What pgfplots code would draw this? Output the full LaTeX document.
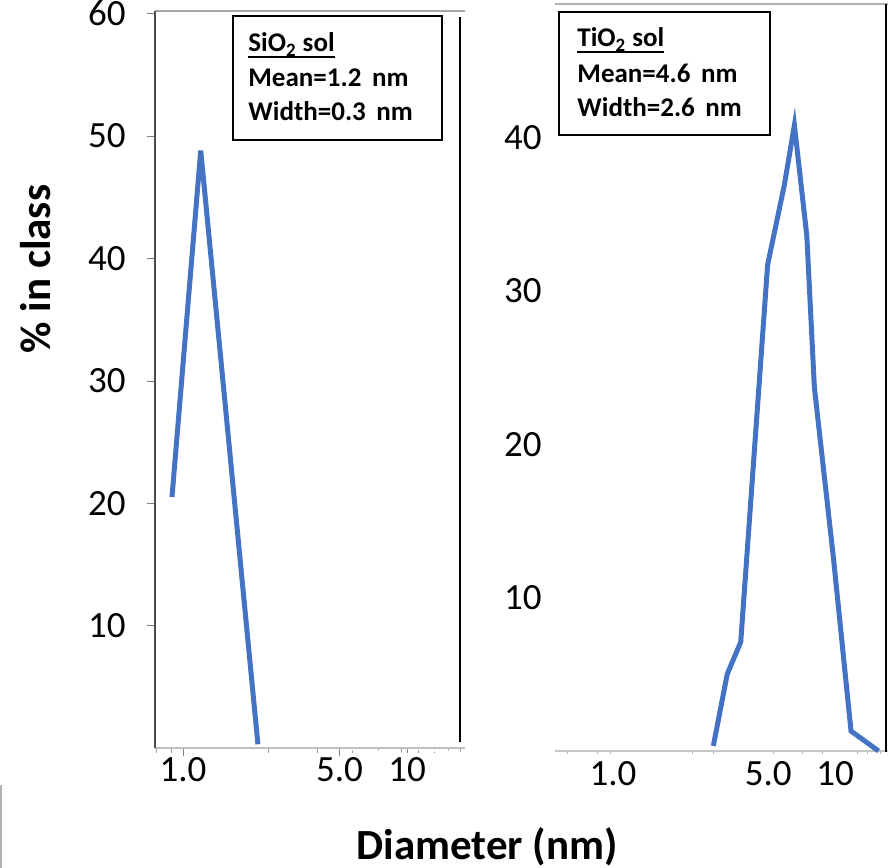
\documentclass[border=0pt]{standalone}
\usepackage{fontspec}
\setmainfont{Carlito}
\usepackage{pgfplots}
\pgfplotsset{compat=1.18}
\definecolor{lineblue}{RGB}{68,114,196}
% thick underline for the box titles
\newcommand\ul[1]{\setbox0\hbox{#1}\rlap{\rule[-3.2pt]{\wd0}{1.4pt}}\box0}

\pgfplotsset{
  panel/.style={
    scale only axis, ymin=0, clip=false,
    axis line style={draw=none},
    xtick pos=bottom, ytick pos=left,
    /pgf/number format/assume math mode=true,
    tick label style={font=\fontsize{18.5}{21}\selectfont},
    xtick={1,5,10}, xticklabels={1.0,5.0,10},
    tick align=outside,
    xticklabel style={anchor=north, inner sep=0pt},
    yticklabel style={anchor=east, inner sep=0pt},
  },
  psd/.style={lineblue, line width=2.5pt, line join=miter, no markers},
}

\begin{document}
\begin{tikzpicture}
\useasboundingbox (0,0) rectangle (448pt,434pt);

% SiO2 panel
\begin{semilogxaxis}[panel,
  at={(77.5pt,60pt)}, anchor=south west,
  width=153.5pt, height=368.5pt,
  xmin=0.75, xmax=17.6, ymax=60.2,
  ytick={10,20,...,60},
  minor xtick={0.758,0.884,1,2.40,3.97,5.68,7.42,9.40,11.2,13.2,15.2,17.2},
  major tick length=4pt, minor tick length=2.5pt,
  major tick style={gray},
  minor tick style={gray!80},
  extra x ticks={1}, extra x tick labels={},
  yticklabel style={xshift=-10.5pt},
  xticklabel style={yshift=-0.5pt},
]
\draw[white, line width=1.2pt] (axis cs:5,0) -- ++(0,-4.5pt) (axis cs:10,0) -- ++(0,-4.5pt);
\draw[gray!50, line width=1pt] (rel axis cs:0,0) -- (rel axis cs:1.01,0);
\draw[gray!70, line width=1pt] (rel axis cs:0,1) -- (rel axis cs:1.01,1);
\draw[black!70, line width=1pt] (rel axis cs:0,0) -- (rel axis cs:0,1);
\draw[black, line width=1pt] (rel axis cs:0.9935,0.008) -- (rel axis cs:0.9935,0.992);
\addplot[psd] coordinates {(0.893,20.5) (1.20,48.8) (2.16,0.3)};
\end{semilogxaxis}

% TiO2 panel
\begin{semilogxaxis}[panel,
  at={(277.5pt,58.5pt)}, anchor=south west,
  width=165.5pt, height=373.5pt,
  xmin=0.548, xmax=16.96, ymax=48.7,
  ytick={10,20,30,40},
  minor xtick={0.621,0.847,0.969,2.27,2.82,5.26,7.10,8.74,12.6,13.9,15.9},
  major tick length=0pt, minor tick length=1.5pt,
  major tick style={draw=none},
  minor tick style={gray!60},
  yticklabel style={xshift=-6.5pt},
  xticklabel style={yshift=-5pt},
]
\draw[gray!45, line width=1pt] (rel axis cs:0,0) -- (rel axis cs:1.006,0);
\draw[gray!60, line width=1pt] (rel axis cs:0,1) -- (rel axis cs:1.006,1);
\draw[black, line width=1pt] (rel axis cs:1,1) -- (rel axis cs:1,-0.002);
\addplot[psd] coordinates {
  (2.83,0.33) (3.27,5.02) (3.76,7.1) (4.97,31.7) (5.91,36.9) (6.56,40.8)
  (7.46,33.6) (8.07,23.7) (9.83,12.6) (11.8,1.3) (15.7,0)
};
\end{semilogxaxis}

% annotation boxes
\draw[line width=1.3pt] (116.5pt,364pt) rectangle (221pt,426pt);
\begin{scope}[every node/.style={anchor=base west, inner sep=0pt, font=\bfseries\fontsize{13.5}{16}\selectfont}]
\node at (124pt,408pt) {\ul{SiO\textsubscript{2} sol}};
\node at (124pt,390.5pt) {Mean=1.2\ \,nm};
\node at (124pt,373.5pt) {Width=0.3\ \,nm};
\end{scope}
\draw[line width=1.3pt] (279.5pt,366.5pt) rectangle (385pt,428pt);
\begin{scope}[every node/.style={anchor=base west, inner sep=0pt, font=\bfseries\fontsize{13.5}{16}\selectfont}]
\node at (288.5pt,410.5pt) {\ul{TiO\textsubscript{2} sol}};
\node at (288.5pt,392.5pt) {Mean=4.6\ \,nm};
\node at (288.5pt,375.5pt) {Width=2.6\ \,nm};
\end{scope}

% shared axis titles
\node[font=\bfseries\fontsize{21.5}{25}\selectfont] at (243.5pt,10.5pt) {Diameter (nm)};
\node[font=\bfseries\fontsize{21.5}{25}\selectfont, rotate=90] at (18pt,299.5pt) {\% in class};
\draw[gray!60, line width=1pt] (0.5pt,0) -- (0.5pt,41.5pt);
\end{tikzpicture}
\end{document}
